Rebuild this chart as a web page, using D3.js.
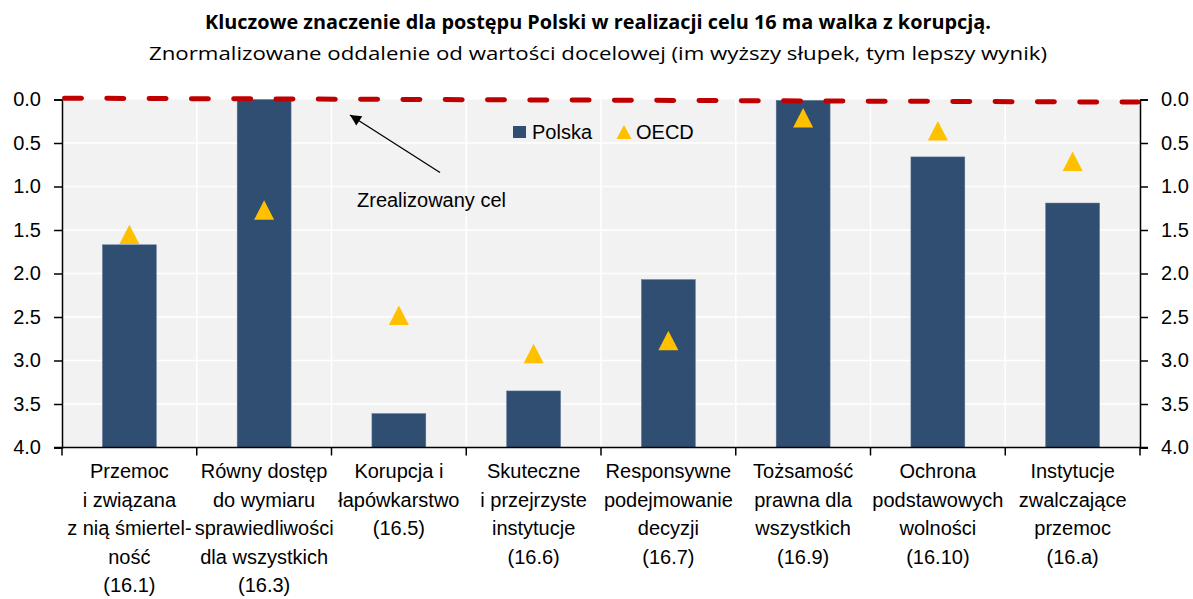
<!DOCTYPE html>
<html>
<head>
<meta charset="utf-8">
<script src="https://cdn.jsdelivr.net/npm/d3@7"></script>
<style>
  body { margin: 0; background: #fff; }
  svg { display: block; }
  text { font-family: "Liberation Sans", Arial, sans-serif; fill: #000; }
</style>
</head>
<body>
<svg id="chart" width="1193" height="599"></svg>
<script>
// data
var categories = ["16.1", "16.3", "16.5", "16.6", "16.7", "16.9", "16.10", "16.a"];
var categoryLines = [
  ["Przemoc", "i związana", "z nią śmiertel-", "ność", "(16.1)"],
  ["Równy dostęp", "do wymiaru", "sprawiedliwości", "dla wszystkich", "(16.3)"],
  ["Korupcja i", "łapówkarstwo", "(16.5)"],
  ["Skuteczne", "i przejrzyste", "instytucje", "(16.6)"],
  ["Responsywne", "podejmowanie", "decyzji", "(16.7)"],
  ["Tożsamość", "prawna dla", "wszystkich", "(16.9)"],
  ["Ochrona", "podstawowych", "wolności", "(16.10)"],
  ["Instytucje", "zwalczające", "przemoc", "(16.a)"]
];
var polska = [1.67, 0.0, 3.61, 3.35, 2.07, 0.01, 0.66, 1.19];
var oecd = [1.55, 1.27, 2.48, 2.92, 2.77, 0.21, 0.36, 0.71];
var target = [-0.015, 0.03]; // "Zrealizowany cel" line, start and end
var yTicks = [0, 0.5, 1, 1.5, 2, 2.5, 3, 3.5, 4];

var svg = d3.select("#chart");
var plotL = 62, plotR = 1140, plotT = 99.5, plotB = 447.5;

var x = d3.scaleBand().domain(categories).range([plotL, plotR]).padding(0);
var y = d3.scaleLinear().domain([0, 4]).range([plotT, plotB]);
var barW = x.bandwidth() * 0.4;

// titles
svg.append("text")
  .attr("x", 598).attr("y", 29)
  .attr("text-anchor", "middle")
  .attr("textLength", 786).attr("lengthAdjust", "spacingAndGlyphs")
  .style("font-family", "'Open Sans', sans-serif")
  .style("font-weight", "bold").style("font-size", "19px")
  .text("Kluczowe znaczenie dla postępu Polski w realizacji celu 16 ma walka z korupcją.");
svg.append("text")
  .attr("x", 598).attr("y", 60)
  .attr("text-anchor", "middle")
  .attr("textLength", 898).attr("lengthAdjust", "spacingAndGlyphs")
  .style("font-family", "'Open Sans', sans-serif")
  .style("font-size", "19px")
  .text("Znormalizowane oddalenie od wartości docelowej (im wyższy słupek, tym lepszy wynik)");

// plot background + grid
svg.append("rect")
  .attr("x", plotL).attr("y", plotT)
  .attr("width", plotR - plotL).attr("height", plotB - plotT)
  .attr("fill", "#f2f2f2");

svg.append("g").selectAll("line").data(yTicks.slice(1, -1)).join("line")
  .attr("x1", plotL).attr("x2", plotR)
  .attr("y1", function(d) { return y(d); }).attr("y2", function(d) { return y(d); })
  .attr("stroke", "#fff").attr("stroke-width", 1.5);

svg.append("g").selectAll("line").data(categories.slice(1)).join("line")
  .attr("x1", function(d) { return x(d); }).attr("x2", function(d) { return x(d); })
  .attr("y1", plotT).attr("y2", plotB)
  .attr("stroke", "#fff").attr("stroke-width", 1.5);

// bars (grow up from 4.0)
svg.append("g").selectAll("rect").data(polska).join("rect")
  .attr("x", function(d, i) { return x(categories[i]) + (x.bandwidth() - barW) / 2; })
  .attr("y", function(d) { return y(d); })
  .attr("width", barW)
  .attr("height", function(d) { return y(4) - y(d); })
  .attr("fill", "#2f4e72")
  .attr("stroke", "#5d7593").attr("stroke-width", 0.5);

// OECD triangles
var tri = "M0,-9.7L10,9.7L-10,9.7Z";
svg.append("g").selectAll("path").data(oecd).join("path")
  .attr("d", tri)
  .attr("transform", function(d, i) {
    return "translate(" + (x(categories[i]) + x.bandwidth() / 2) + "," + y(d) + ")";
  })
  .attr("fill", "#ffc000");

// axes
var fmt = d3.format(".1f");
var yl = svg.append("g").attr("transform", "translate(" + plotL + ",0)")
  .call(d3.axisLeft(y).tickValues(yTicks).tickFormat(fmt).tickSize(8).tickPadding(13));
var yr = svg.append("g").attr("transform", "translate(" + plotR + ",0)")
  .call(d3.axisRight(y).tickValues(yTicks).tickFormat(fmt).tickSize(8).tickPadding(13));
[yl, yr].forEach(function(g) {
  g.select(".domain").attr("stroke", "#000").attr("stroke-width", 1.5);
  g.selectAll(".tick line").attr("stroke", "#000").attr("stroke-width", 1.5);
  g.selectAll(".tick text").style("font-size", "20px").style("font-family", "'Liberation Sans', Arial, sans-serif").attr("fill", "#000");
});

var xAxis = svg.append("g").attr("transform", "translate(0," + plotB + ")");
xAxis.append("line")
  .attr("x1", plotL - 8).attr("x2", plotR + 8)
  .attr("stroke", "#000").attr("stroke-width", 1.5);
xAxis.selectAll("line.tk").data(categories.concat(["end"])).join("line")
  .attr("class", "tk")
  .attr("x1", function(d, i) { return plotL + i * x.bandwidth(); })
  .attr("x2", function(d, i) { return plotL + i * x.bandwidth(); })
  .attr("y1", 0).attr("y2", 8)
  .attr("stroke", "#000").attr("stroke-width", 1.5);

var labels = svg.append("g");
categoryLines.forEach(function(lines, i) {
  var cx = x(categories[i]) + x.bandwidth() / 2;
  var t = labels.append("text")
    .attr("text-anchor", "middle")
    .style("font-size", "20px");
  lines.forEach(function(s, j) {
    t.append("tspan").attr("x", cx).attr("y", 478 + j * 28.5).text(s);
  });
});

// target dashed line
svg.append("line")
  .attr("x1", plotL + 2.5).attr("x2", plotR - 2)
  .attr("y1", y(target[0])).attr("y2", y(target[1]))
  .attr("stroke", "#c00000").attr("stroke-width", 5)
  .attr("stroke-linecap", "round")
  .attr("stroke-dasharray", "17,25.3");

// annotation arrow
svg.append("defs").append("marker")
  .attr("id", "arr").attr("viewBox", "0 0 10 10")
  .attr("refX", 10).attr("refY", 5)
  .attr("markerWidth", 14).attr("markerHeight", 11)
  .attr("markerUnits", "userSpaceOnUse")
  .attr("orient", "auto")
  .append("path").attr("d", "M0,0L10,5L0,10Z").attr("fill", "#000");
svg.append("line")
  .attr("x1", 440).attr("y1", 172.5).attr("x2", 350).attr("y2", 115)
  .attr("stroke", "#000").attr("stroke-width", 1.3)
  .attr("marker-end", "url(#arr)");
svg.append("text")
  .attr("x", 357).attr("y", 207)
  .style("font-size", "20px")
  .text("Zrealizowany cel");

// legend
var lg = svg.append("g");
lg.append("rect").attr("x", 513).attr("y", 126).attr("width", 13).attr("height", 12).attr("fill", "#2f4e72");
lg.append("text").attr("x", 532).attr("y", 139).style("font-size", "20px").text("Polska");
lg.append("path").attr("d", "M0,-7L7.5,7L-7.5,7Z").attr("transform", "translate(624,132)").attr("fill", "#ffc000");
lg.append("text").attr("x", 636).attr("y", 139).style("font-size", "20px").text("OECD");
</script>
</body>
</html>
